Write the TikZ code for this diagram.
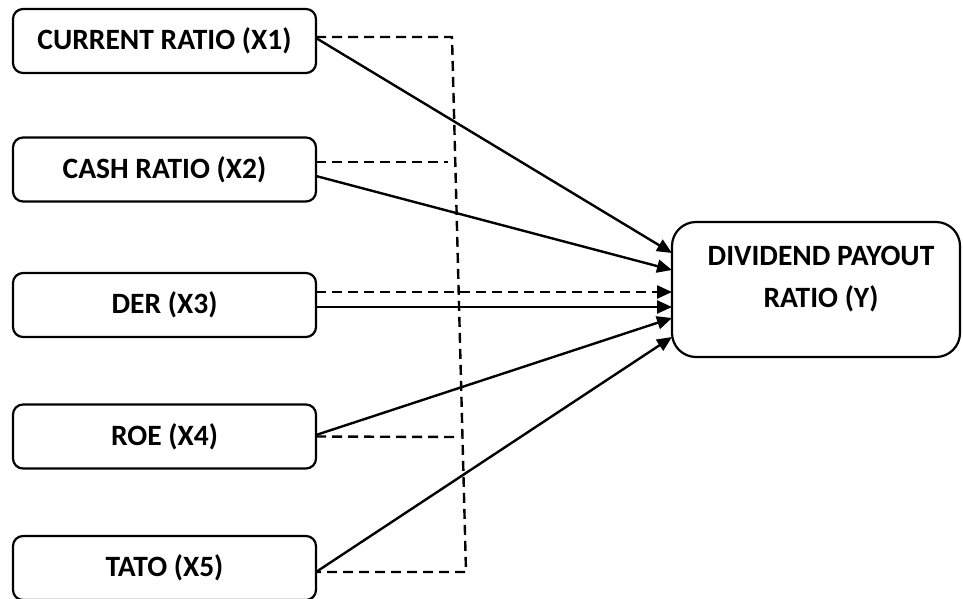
\documentclass[tikz,border=0pt]{standalone}
\usepackage{fontspec}
\setmainfont{Carlito}
\usetikzlibrary{arrows.meta}
\begin{document}
\begin{tikzpicture}[x=1pt,y=-1pt,
  xbox/.style={draw, line width=2.2pt, rounded corners=10pt, minimum width=303pt, minimum height=64pt, inner sep=0pt, outer sep=0pt, font=\fontsize{29.5}{34}\selectfont\bfseries},
  ybox/.style={draw, line width=2.2pt, rounded corners=24pt, minimum width=288pt, minimum height=135pt, inner sep=0pt, outer sep=0pt},
  ytext/.style={align=center, inner sep=0pt, font=\fontsize{29.5}{42}\selectfont\bfseries},
  tip/.style={-{Triangle[length=15pt,width=13pt]}},
  link/.style={line width=2.4pt, tip},
  dlink/.style={line width=2.4pt, dash pattern=on 10pt off 6pt},
]
\useasboundingbox (0,0) rectangle (963,598);
\node[xbox] (x1) at (164.5,41) {CURRENT RATIO (X1)};
\node[xbox] (x2) at (164.5,169.5) {CASH RATIO (X2)};
\node[xbox] (x3) at (164.5,305) {DER (X3)};
\node[xbox] (x4) at (164.5,436.5) {ROE (X4)};
\node[xbox] (x5) at (164.5,568) {TATO (X5)};
\node[ybox] (y) at (816,289.5) {};
\node[ytext] (ylab) at (821,279) {DIVIDEND PAYOUT\\RATIO (Y)};
\coordinate (dtop) at (452,37);
\coordinate (dbot) at (466,572);
\coordinate (d2) at (448,162);
\coordinate (d4) at (460,437);
% dashed links
\draw[dlink] ([yshift=4pt]x1.east) -- (dtop) -- (dbot) -- ([yshift=-4pt]x5.east);
\draw[dlink] ([yshift=7.5pt]x2.east) -- (d2);
\draw[dlink] (x4.east) -- (d4);
\draw[dlink, tip] ([yshift=13pt]x3.east) -- ([yshift=-2.5pt]y.west);
% solid links
\draw[link] ([yshift=3pt]x1.east) -- ([yshift=36.5pt]y.west);
\draw[link] ([yshift=-6.5pt]x2.east) -- ([yshift=19.5pt]y.west);
\draw[link] ([yshift=-2pt]x3.east) -- ([yshift=-17.5pt]y.west);
\draw[link] ([yshift=1.5pt]x4.east) -- ([yshift=-28.5pt]y.west);
\draw[link] ([yshift=-4pt]x5.east) -- ([yshift=-47.5pt]y.west);
\end{tikzpicture}
\end{document}
